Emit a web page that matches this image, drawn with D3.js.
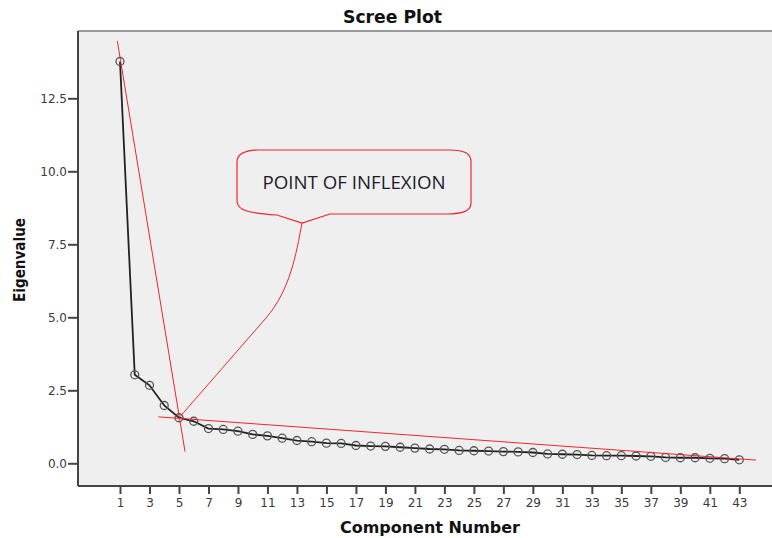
<!DOCTYPE html>
<html><head><meta charset="utf-8">
<script src="https://cdn.jsdelivr.net/npm/d3@7"></script>
<style>body{margin:0;background:#fff;} svg{display:block;}</style>
</head><body>
<script>
const components = d3.range(1, 44);
const eigenvalues = [13.76,3.03,2.67,1.98,1.56,1.44,1.19,1.16,1.10,0.99,0.94,0.86,0.78,0.74,0.69,0.68,0.61,0.59,0.58,0.55,0.52,0.49,0.48,0.44,0.43,0.42,0.40,0.39,0.37,0.32,0.31,0.30,0.27,0.26,0.26,0.25,0.24,0.20,0.19,0.19,0.17,0.16,0.12];
const xTicks = d3.range(1, 44, 2);
const yTicks = [0, 2.5, 5, 7.5, 10, 12.5];
const steepLine = [[0.82, 14.46], [5.41, 0.40]];
const flatLine = [[3.6, 1.59], [44.13, 0.11]];
const calloutText = "POINT OF INFLEXION";
const inflexionComponent = 5;

const W = 772, H = 538;
const plot = {left: 78, top: 31, right: 772, bottom: 486};
const FONT = "DejaVu Sans, Verdana, sans-serif";
const svg = d3.select("body").append("svg").attr("width", W).attr("height", H);

const x = d3.scaleLinear().domain([1, 43]).range([120, 739.3]);
const y = d3.scaleLinear().domain([0, 12.5]).range([463.3, 98.3]);

svg.append("rect").attr("x", plot.left).attr("y", plot.top)
  .attr("width", plot.right - plot.left).attr("height", plot.bottom - plot.top)
  .attr("fill", "#efefef");

// frame
svg.append("line").attr("x1", plot.left).attr("x2", plot.right).attr("y1", plot.top).attr("y2", plot.top)
  .attr("stroke", "#7a7a7a").attr("stroke-width", 1.5);
svg.append("line").attr("x1", plot.left).attr("x2", plot.left).attr("y1", plot.top).attr("y2", plot.bottom)
  .attr("stroke", "#444").attr("stroke-width", 2);
svg.append("line").attr("x1", plot.left).attr("x2", plot.right).attr("y1", plot.bottom).attr("y2", plot.bottom)
  .attr("stroke", "#444").attr("stroke-width", 2);

// axes
const yAxis = d3.axisLeft(y).tickValues(yTicks).tickFormat(d3.format(".1f")).tickSize(10).tickPadding(1);
const gy = svg.append("g").attr("transform", `translate(${plot.left},0)`).call(yAxis);
gy.select(".domain").remove();
gy.selectAll("line").attr("stroke", "#444").attr("stroke-width", 2);
gy.selectAll("text").attr("font-family", FONT).attr("font-size", 12).attr("fill", "#3a3a3a");

const xAxis = d3.axisBottom(x).tickValues(xTicks).tickFormat(d3.format("d")).tickSize(8).tickPadding(4);
const gx = svg.append("g").attr("transform", `translate(0,${plot.bottom})`).call(xAxis);
gx.select(".domain").remove();
gx.selectAll("line").attr("stroke", "#444").attr("stroke-width", 2);
gx.selectAll("text").attr("font-family", FONT).attr("font-size", 12).attr("fill", "#3a3a3a");

// titles
svg.append("text").attr("x", 392.5).attr("y", 23).attr("text-anchor", "middle")
  .attr("font-family", FONT).attr("font-weight", "bold").attr("font-size", 17)
  .attr("textLength", 99).attr("lengthAdjust", "spacingAndGlyphs")
  .attr("fill", "#111").text("Scree Plot");
svg.append("text").attr("x", 430).attr("y", 533).attr("text-anchor", "middle")
  .attr("font-family", FONT).attr("font-weight", "bold").attr("font-size", 16)
  .attr("textLength", 180).attr("lengthAdjust", "spacingAndGlyphs")
  .attr("fill", "#111").text("Component Number");
svg.append("text").attr("transform", "translate(25,260) rotate(-90)").attr("text-anchor", "middle")
  .attr("font-family", FONT).attr("font-weight", "bold").attr("font-size", 16)
  .attr("textLength", 84).attr("lengthAdjust", "spacingAndGlyphs")
  .attr("fill", "#111").text("Eigenvalue");

// data line & markers
const line = d3.line().x((d, i) => x(components[i])).y(d => y(d));
svg.append("path").datum(eigenvalues).attr("d", line).attr("fill", "none")
  .attr("stroke", "#222").attr("stroke-width", 1.8);
svg.selectAll("circle.pt").data(eigenvalues).join("circle").attr("class", "pt")
  .attr("cx", (d, i) => x(components[i])).attr("cy", d => y(d)).attr("r", 4)
  .attr("fill", "none").attr("stroke", "#555").attr("stroke-width", 1.3);

// red fit lines
const rl = d3.line().x(d => x(d[0])).y(d => y(d[1]));
[steepLine, flatLine].forEach(l => {
  svg.append("path").attr("d", rl(l)).attr("stroke", "#f0262a").attr("stroke-width", 1).attr("fill", "none");
});

// callout
const bx0 = 237, bx1 = 471, by0 = 150, by1 = 213;
const apex = [302, 223];
const tip = [x(inflexionComponent) + 1, y(eigenvalues[inflexionComponent - 1]) - 1];
const box = d3.path();
box.moveTo(bx0 + 22, by0);
box.lineTo(bx1 - 22, by0);
box.bezierCurveTo(bx1 - 5, by0, bx1, by0 + 4, bx1, by0 + 12);
box.lineTo(bx1, by1 - 10);
box.bezierCurveTo(bx1, by1 - 3, bx1 - 6, by1 + 1, bx1 - 25, by1 + 1);
box.lineTo(330, by1 + 1);
box.lineTo(apex[0], apex[1]);
box.lineTo(277, by1 + 2);
box.bezierCurveTo(250, by1, bx0, by1 - 2, bx0, by1 - 12);
box.lineTo(bx0, by0 + 12);
box.bezierCurveTo(bx0, by0 + 4, bx0 + 8, by0, bx0 + 22, by0);
box.closePath();
svg.append("path").attr("d", box.toString()).attr("fill", "none").attr("stroke", "#f0262a").attr("stroke-width", 1.2);

const tail = d3.path();
tail.moveTo(apex[0], apex[1]);
tail.bezierCurveTo(296, 255, 290, 290, 266, 318);
tail.lineTo(tip[0], tip[1]);
svg.append("path").attr("d", tail.toString()).attr("fill", "none").attr("stroke", "#f0262a").attr("stroke-width", 1);

svg.append("text").attr("x", 354).attr("y", 189).attr("text-anchor", "middle")
  .attr("font-family", "Open Sans, sans-serif").attr("font-size", 18)
  .attr("textLength", 183).attr("lengthAdjust", "spacingAndGlyphs")
  .attr("fill", "#1b1b2a").text(calloutText);
</script>
</body></html>
